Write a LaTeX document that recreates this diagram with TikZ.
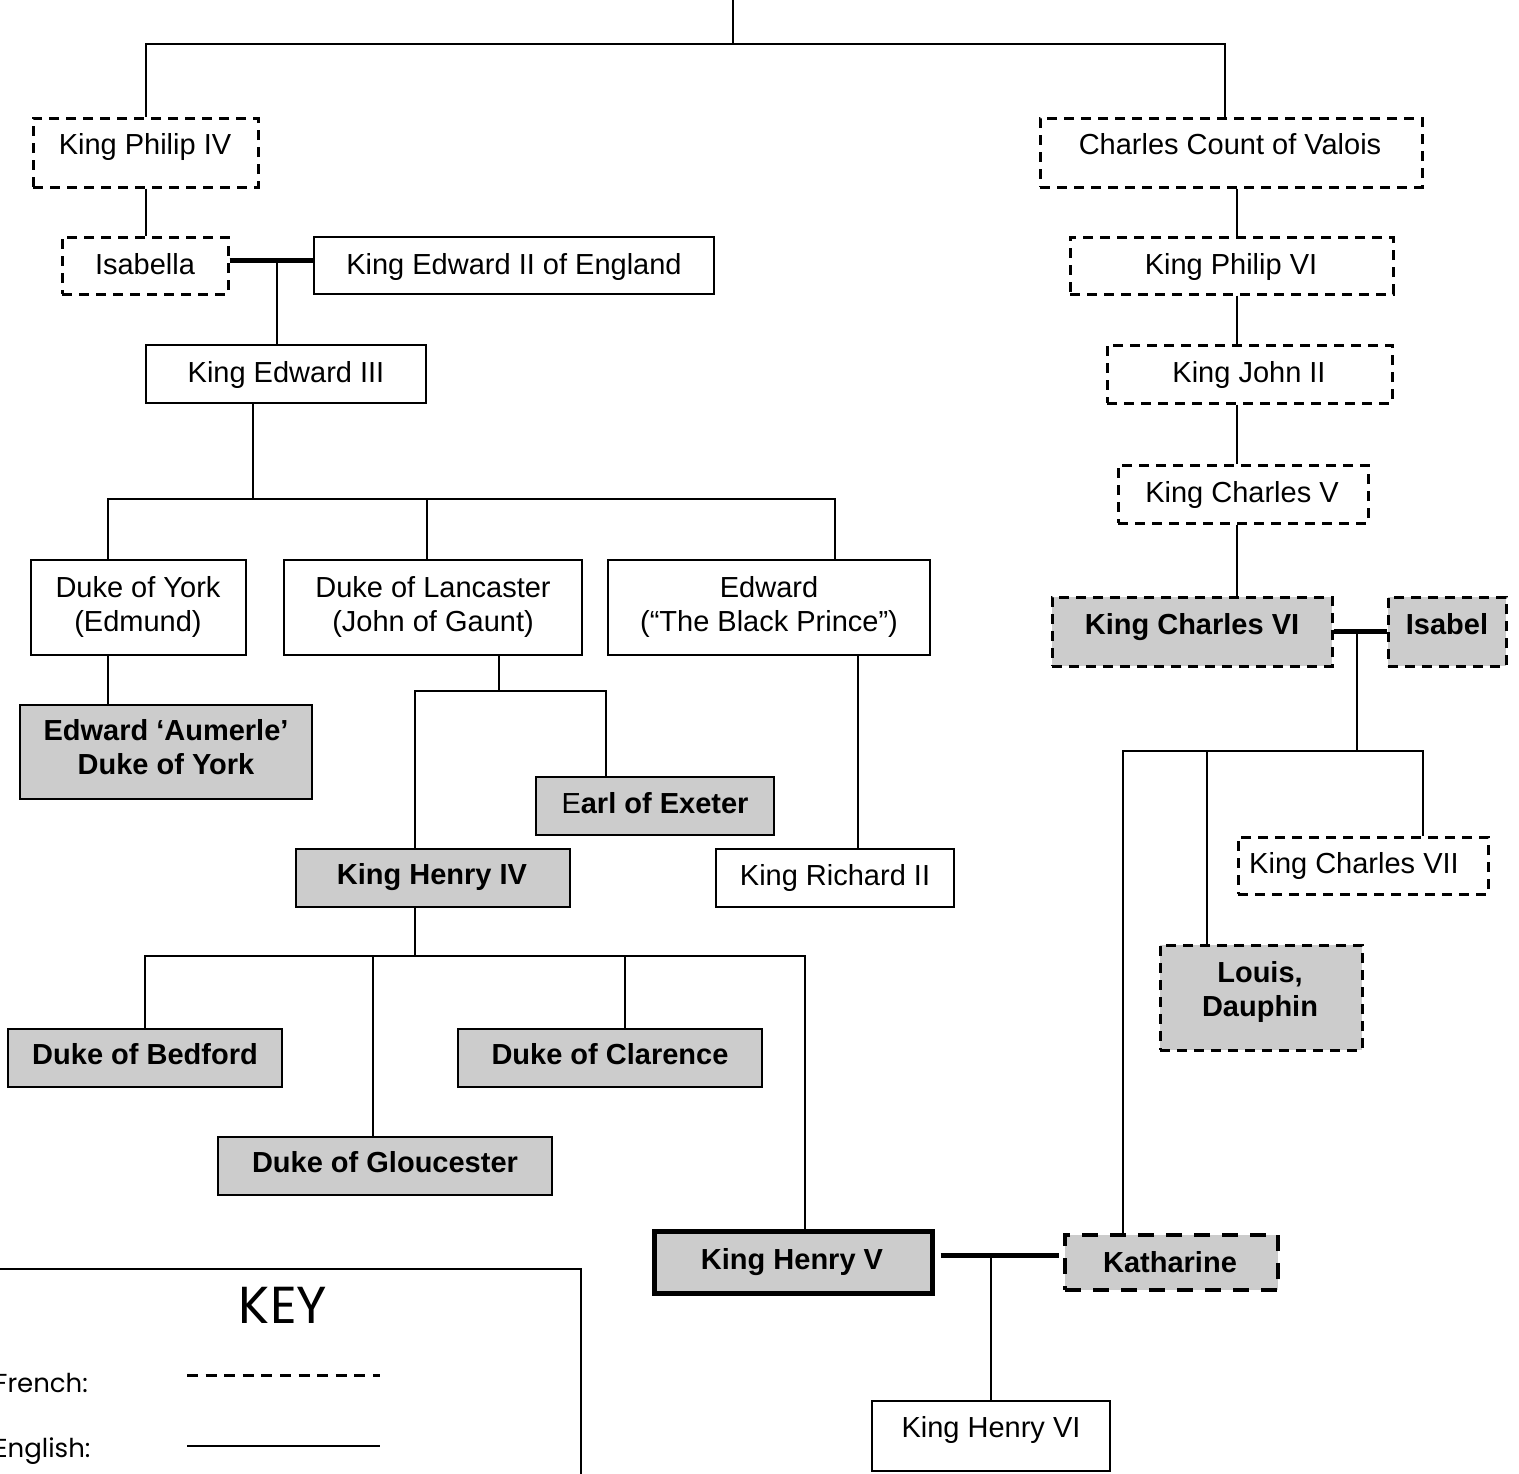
\documentclass[tikz,border=0pt]{standalone}
\usepackage{fontspec}
\setmainfont{Liberation Sans}
\newfontfamily\keyfont{Poppins}
\usetikzlibrary{fit}
\tikzset{
  base/.style={inner sep=0pt, line width=1pt},
  eng/.style={draw, base},
  fr/.style={draw, inner sep=0pt, line width=1.5pt, dash pattern=on 5pt off 3.5pt},
  frthick/.style={draw, inner sep=0pt, line width=2pt, dash pattern=on 8pt off 6pt},
  hi/.style={fill=black!20},
  thickbox/.style={line width=2.5pt},
  txtm/.style={font=\fontsize{14.5}{17}\selectfont, align=center, inner sep=0pt},
  txt/.style={txtm, text height=0.716em, text depth=0pt, yshift=-1.5pt},
  conn/.style={line width=1pt},
  wed/.style={line width=2.5pt},
}
\newcommand\pbox[9]{%
  \node[#2, fit={(#3,#4)(#5,#6)}] (#1) {};
  \node[txt] (#1t) at (#7,#8) {#9};}
\begin{document}
\begin{tikzpicture}[x=0.5pt,y=-0.5pt]
\useasboundingbox (0,0) rectangle (1519,1473);
% ---------- English side ----------
\pbox{kp4}{fr}{33}{118}{258}{187}{145}{144}{King Philip IV}
\pbox{isa}{fr}{62}{237}{228}{294}{145}{264}{Isabella}
\pbox{e2}{eng}{314}{237}{714}{294}{514}{264}{King Edward II of England}
\pbox{e3}{eng}{146}{345}{426}{403}{286}{372}{King Edward III}
\node[eng, fit={(31,560)(246,655)}] (york) {};
\node[txtm] (yorkt) at (138,607) {Duke of York\\(Edmund)};
\node[eng, fit={(284,560)(582,655)}] (lanc) {};
\node[txtm] (lanct) at (433,607) {Duke of Lancaster\\(John of Gaunt)};
\node[eng, fit={(608,560)(930,655)}] (bp) {};
\node[txtm] (bpt) at (769,607) {Edward\\(“The Black Prince”)};
\node[eng, hi, fit={(20,705)(312,799)}] (aum) {};
\node[txtm, font=\fontsize{14.5}{17}\selectfont\bfseries] (aumt) at (166,747) {Edward ‘Aumerle’\\Duke of York};
\pbox{exe}{eng,hi}{536}{777}{774}{835}{655}{803}{E\textbf{arl of Exeter}}
\pbox{h4}{eng,hi}{296}{849}{570}{907}{432}{874}{\bfseries King Henry IV}
\pbox{r2}{eng}{716}{849}{954}{907}{835}{875}{King Richard II}
\pbox{bed}{eng,hi}{8}{1029}{282}{1087}{145}{1054}{\bfseries Duke of Bedford}
\pbox{cla}{eng,hi}{458}{1029}{762}{1087}{610}{1054}{\bfseries Duke of Clarence}
\pbox{glo}{eng,hi}{218}{1137}{552}{1195}{385}{1162}{\bfseries Duke of Gloucester}
\pbox{h5}{eng,hi,thickbox}{654}{1231}{932}{1293}{792}{1259}{\bfseries King Henry V}
\pbox{h6}{eng}{872}{1401}{1110}{1471}{991}{1427}{King Henry VI}
% ---------- French side ----------
\pbox{ccv}{fr}{1040}{118}{1422}{187}{1230}{144}{Charles Count of Valois}
\pbox{kp6}{fr}{1070}{237}{1393}{294}{1231}{264}{King Philip VI}
\pbox{j2}{fr}{1107}{345}{1392}{403}{1249}{372}{King John II}
\pbox{c5}{fr}{1118}{465}{1368}{523}{1242}{492}{King Charles V}
\pbox{c6}{fr,hi}{1052}{597}{1332}{666}{1192}{624}{\bfseries King Charles VI}
\pbox{isab}{fr,hi}{1388}{597}{1506}{666}{1447}{624}{\bfseries Isabel}
\pbox{c7}{fr}{1238}{837}{1488}{894}{1354}{863}{King Charles VII}
\node[fr, hi, fit={(1160,945)(1362,1050)}] (lou) {};
\node[txtm, font=\fontsize{14.5}{17}\selectfont\bfseries] (lout) at (1260,992) {Louis,\\Dauphin};
\pbox{kat}{frthick,hi}{1065}{1235}{1278}{1290}{1170}{1262}{\bfseries Katharine}
% ---------- connectors ----------
\coordinate (topend) at (733,0);
\coordinate (j0) at (733,44);
\draw[conn] (topend) -- (j0);
\draw[conn] (kp4.north) |- (j0) -| (ccv.north -| 1225,0);
\draw[conn] (kp4.south) -- (kp4.south |- isa.north);
\draw[wed] (isa.east |- 0,260) -- (e2.west |- 0,260);
\coordinate (m1) at (277,260);
\draw[conn] (m1) -- (e3.north -| m1);
\draw[conn] (e3.south -| 253,0) -- (253,499);
\draw[conn] (york.north -| 108,0) |- (835,499) -- (bp.north -| 835,0);
\draw[conn] (lanc.north -| 427,0) -- (427,499);
\draw[conn] (york.south -| 108,0) -- (aum.north -| 108,0);
\draw[conn] (lanc.south -| 499,0) -- (499,691);
\draw[conn] (h4.north -| 415,0) |- (606,691) -- (exe.north -| 606,0);
\draw[conn] (bp.south -| 858,0) -- (r2.north -| 858,0);
\draw[conn] (h4.south -| 415,0) -- (415,956);
\draw[conn] (bed.north -| 145,0) |- (805,956) -- (h5.north -| 805,0);
\draw[conn] (glo.north -| 373,0) -- (373,956);
\draw[conn] (cla.north -| 625,0) -- (625,956);
\draw[wed, shorten <=3pt, shorten >=2pt] (h5.east |- 0,1255) -- (kat.west |- 0,1255);
\draw[conn] (991,1255) -- (h6.north -| 991,0);
\draw[conn] (ccv.south -| 1237,0) -- (kp6.north -| 1237,0);
\draw[conn] (kp6.south -| 1237,0) -- (j2.north -| 1237,0);
\draw[conn] (j2.south -| 1237,0) -- (c5.north -| 1237,0);
\draw[conn] (c5.south -| 1237,0) -- (c6.north -| 1237,0);
\draw[wed] (c6.east |- 0,631) -- (isab.west |- 0,631);
\draw[conn] (1357,631) -- (1357,751);
\draw[conn] (kat.north -| 1123,0) |- (1423,751) -- (c7.north -| 1423,0);
\draw[conn] (lou.north -| 1207,0) -- (1207,751);
% ---------- key ----------
\node[eng, fit={(-20,1269)(581,1510)}] (key) {};
\node[font=\keyfont\fontsize{26}{30}\selectfont, inner sep=0pt] (keyt) at (283,1305) {KEY};
\node[font=\keyfont\fontsize{13}{16}\selectfont, inner sep=0pt, anchor=base west] (kfr) at (-6,1392) {French:};
\node[font=\keyfont\fontsize{13}{16}\selectfont, inner sep=0pt, anchor=base west] (ken) at (-6,1457) {English:};
\coordinate (kf1) at (187,1375);
\coordinate (kf2) at (380,1375);
\coordinate (ke1) at (187,1446);
\coordinate (ke2) at (380,1446);
\draw[line width=1.5pt, dash pattern=on 5.5pt off 3.8pt] (kf1) -- (kf2);
\draw[line width=0.8pt] (ke1) -- (ke2);
\end{tikzpicture}
\end{document}
